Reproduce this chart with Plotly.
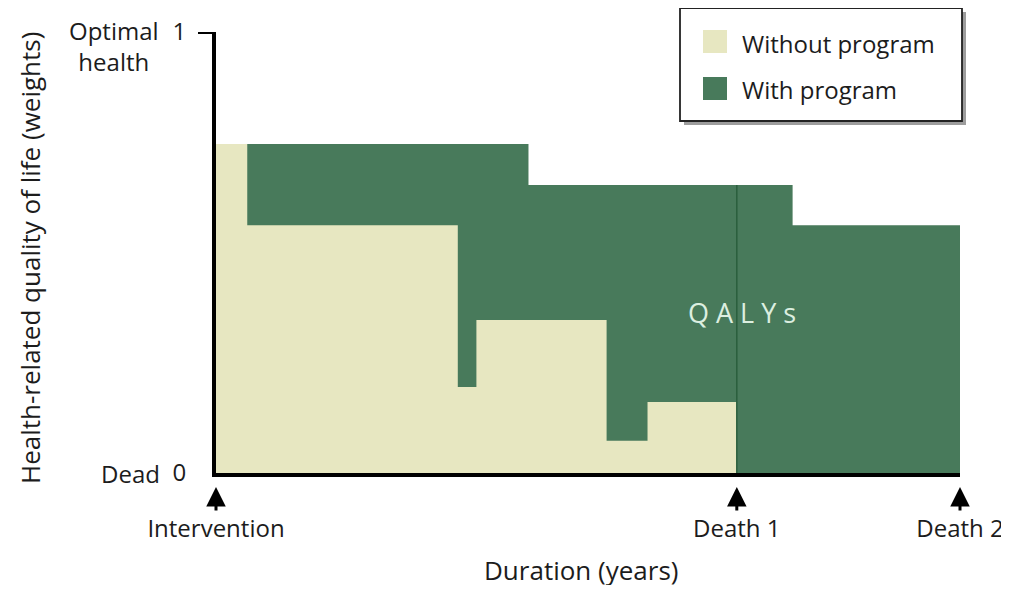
import plotly.graph_objects as go

# ---- data (years, health-related quality of life weights) ----
with_x = [0, 4.2, 7.75, 10]
with_y = [0.746, 0.653, 0.562, 0.562]

without_x = [0, 0.42, 3.25, 3.5, 5.25, 5.8, 7.0]
without_y = [0.746, 0.562, 0.195, 0.347, 0.073, 0.161, 0.161]

death1_x = 7.0
death1_y = 0.653

tick_vals = [0, 7, 10]
tick_text = ["Intervention", "Death 1", "Death 2"]

y_tick_vals = [0, 1]
y_tick_text = ["0", "1"]

LIGHT = "#e7e7c1"
DARK = "#487a5b"
DLINE = "#2b5f3d"
TXT = "#1c1c1c"
FONT = "Open Sans"

# plot area geometry in page pixels (page keeps its 8px body margin)
OFF = 8
L, R, T, B = 216, 960, 32, 473
PAGE_W, PAGE_H = 1009, 593
W, H = PAGE_W - 2 * OFF, PAGE_H - 2 * OFF


def px(xp):
    return (xp - L) / (R - L)


def py(yp):
    return (B - yp) / (B - T)


fig = go.Figure()

fig.add_trace(go.Scatter(
    x=with_x, y=with_y, mode="lines", line=dict(shape="hv", width=0, color=DARK),
    fill="tozeroy", fillcolor=DARK, name="With program", showlegend=False,
    hoverinfo="skip"))

fig.add_trace(go.Scatter(
    x=without_x, y=without_y, mode="lines", line=dict(shape="hv", width=0, color=LIGHT),
    fill="tozeroy", fillcolor=LIGHT, name="Without program", showlegend=False,
    hoverinfo="skip"))

fig.add_trace(go.Scatter(
    x=[death1_x, death1_x], y=[0, death1_y], mode="lines",
    line=dict(color=DLINE, width=1.5), showlegend=False, hoverinfo="skip"))

shapes = []
# top tick at y=1
shapes.append(dict(type="line", xref="paper", yref="y", x0=px(198), x1=px(216),
                   y0=1, y1=1, line=dict(color="black", width=4)))
# legend shadow + box
shapes.append(dict(type="rect", xref="paper", yref="paper",
                   x0=px(684), x1=px(966), y0=py(125), y1=py(12),
                   fillcolor="rgba(60,60,60,0.5)", line=dict(width=0)))
shapes.append(dict(type="rect", xref="paper", yref="paper",
                   x0=px(680), x1=px(962), y0=py(121), y1=py(8),
                   fillcolor="white", line=dict(color="#222", width=1.8)))
# legend swatches
shapes.append(dict(type="rect", xref="paper", yref="paper",
                   x0=px(703), x1=px(727), y0=py(53), y1=py(30),
                   fillcolor=LIGHT, line=dict(width=0)))
shapes.append(dict(type="rect", xref="paper", yref="paper",
                   x0=px(703), x1=px(727), y0=py(100), y1=py(77),
                   fillcolor=DARK, line=dict(width=0)))

annotations = []
annotations.append(dict(text="Without program", xref="paper", yref="paper",
                        x=px(740), y=py(43), xanchor="left", yanchor="middle",
                        showarrow=False, font=dict(family=FONT, size=24, color=TXT)))
annotations.append(dict(text="With program", xref="paper", yref="paper",
                        x=px(740), y=py(89), xanchor="left", yanchor="middle",
                        showarrow=False, font=dict(family=FONT, size=24, color=TXT)))
# y labels
annotations.append(dict(text="Optimal<br>health", xref="paper", yref="paper",
                        x=px(114), y=py(46), xanchor="center", yanchor="middle",
                        align="center", showarrow=False,
                        font=dict(family=FONT, size=24, color=TXT)))
annotations.append(dict(text="Dead", xref="paper", yref="paper",
                        x=px(130), y=py(473), xanchor="center", yanchor="middle",
                        showarrow=False, font=dict(family=FONT, size=24, color=TXT)))
# axis titles
annotations.append(dict(text="Health-related quality of life (weights)", xref="paper",
                        yref="paper", x=px(30), y=py(258), textangle=-90,
                        xanchor="center", yanchor="middle", showarrow=False,
                        font=dict(family=FONT, size=26, color=TXT)))
annotations.append(dict(text="Duration (years)", xref="paper", yref="paper",
                        x=px(581), y=py(570), xanchor="center", yanchor="middle",
                        showarrow=False, font=dict(family=FONT, size=26, color=TXT)))
# QALYs
annotations.append(dict(text="Q A L Y s", xref="paper", yref="paper",
                        x=px(742), y=py(312), xanchor="center", yanchor="middle",
                        showarrow=False, font=dict(family=FONT, size=27, color="#dcefe0")))
# arrows under ticks
for tv in tick_vals:
    annotations.append(dict(text="", x=tv, xref="x", yref="paper", y=py(487),
                            showarrow=True, ax=0, ay=25, axref="pixel", ayref="pixel",
                            arrowhead=2, arrowsize=1.3, arrowwidth=3,
                            arrowcolor="black"))

fig.update_layout(
    width=W, height=H, autosize=False,
    margin=dict(l=L - OFF, r=W - (R - OFF), t=T - OFF, b=H - (B - OFF), pad=0,
                autoexpand=False),
    paper_bgcolor="white", plot_bgcolor="white",
    shapes=shapes, annotations=annotations,
    font=dict(family=FONT, color=TXT),
    xaxis=dict(range=[0, 10], showgrid=False, zeroline=False, showline=True,
               linecolor="black", linewidth=4, tickvals=tick_vals, ticktext=tick_text,
               ticks="outside", ticklen=31, tickcolor="rgba(0,0,0,0)",
               ticklabeloverflow="allow",
               tickfont=dict(family=FONT, size=24, color=TXT), fixedrange=True),
    yaxis=dict(range=[0, 1], showgrid=False, zeroline=False, showline=True,
               linecolor="black", linewidth=4, tickvals=y_tick_vals, ticktext=y_tick_text,
               ticks="outside", ticklen=21, tickcolor="rgba(0,0,0,0)",
               tickfont=dict(family=FONT, size=24, color=TXT), fixedrange=True),
)

fig.write_html(
    "out.html",
    config={"displayModeBar": False},
    post_script=("document.querySelectorAll('.main-svg, .svg-container, .plot-container')"
                 ".forEach(function(s){s.style.overflow='visible';});"),
)
